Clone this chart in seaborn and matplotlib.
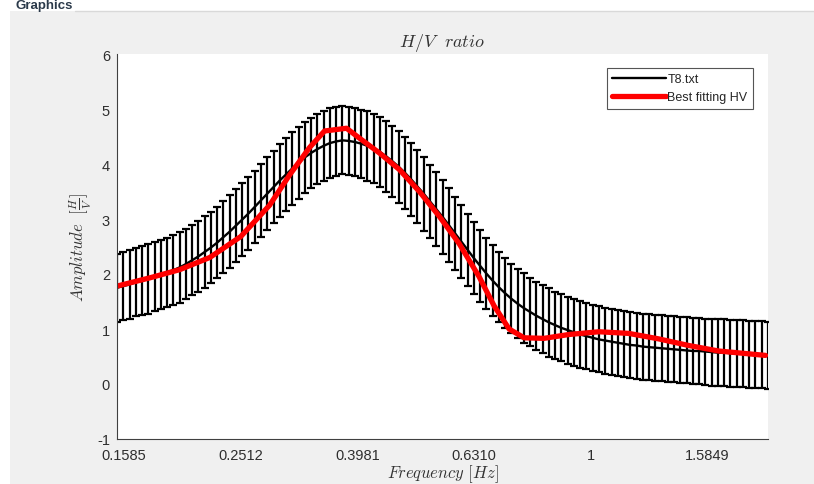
import numpy as np
import matplotlib.pyplot as plt
import matplotlib.patches as mpatches
import seaborn as sns

# measured H/V curve (frequency grid, mean amplitude, error half-width)
freq = [0.1542, 0.1581, 0.1620, 0.1661, 0.1702, 0.1745, 0.1788, 0.1833, 0.1879, 0.1926,
        0.1974, 0.2023, 0.2074, 0.2126, 0.2179, 0.2233, 0.2289, 0.2346, 0.2405, 0.2465,
        0.2527, 0.2590, 0.2655, 0.2721, 0.2789, 0.2859, 0.2930, 0.3004, 0.3079, 0.3156,
        0.3235, 0.3315, 0.3398, 0.3483, 0.3570, 0.3660, 0.3751, 0.3845, 0.3941, 0.4040,
        0.4141, 0.4244, 0.4350, 0.4459, 0.4570, 0.4685, 0.4802, 0.4922, 0.5045, 0.5171,
        0.5300, 0.5433, 0.5569, 0.5708, 0.5851, 0.5997, 0.6147, 0.6300, 0.6458, 0.6619,
        0.6785, 0.6954, 0.7128, 0.7306, 0.7489, 0.7676, 0.7868, 0.8065, 0.8266, 0.8473,
        0.8685, 0.8902, 0.9125, 0.9353, 0.9587, 0.9826, 1.0072, 1.0324, 1.0582, 1.0846,
        1.1117, 1.1395, 1.1680, 1.1972, 1.2271, 1.2578, 1.2893, 1.3215, 1.3545, 1.3884,
        1.4231, 1.4587, 1.4952, 1.5325, 1.5708, 1.6101, 1.6504, 1.6916, 1.7339, 1.7773,
        1.8217, 1.8672, 1.9139, 1.9618, 2.0108]
hv_mean = [1.75, 1.78, 1.81, 1.85, 1.88, 1.91, 1.95, 1.99, 2.03, 2.07,
           2.12, 2.18, 2.25, 2.32, 2.40, 2.48, 2.57, 2.67, 2.77, 2.88,
           2.99, 3.10, 3.22, 3.34, 3.46, 3.58, 3.70, 3.81, 3.92, 4.02,
           4.12, 4.20, 4.27, 4.33, 4.38, 4.41, 4.43, 4.42, 4.40, 4.37,
           4.33, 4.28, 4.22, 4.14, 4.05, 3.95, 3.84, 3.72, 3.59, 3.46,
           3.32, 3.18, 3.04, 2.89, 2.74, 2.59, 2.44, 2.29, 2.15, 2.01,
           1.88, 1.76, 1.65, 1.55, 1.46, 1.38, 1.31, 1.24, 1.18, 1.12,
           1.07, 1.02, 0.98, 0.94, 0.90, 0.87, 0.84, 0.81, 0.79, 0.77,
           0.75, 0.73, 0.71, 0.70, 0.68, 0.67, 0.66, 0.65, 0.64, 0.63,
           0.62, 0.61, 0.60, 0.60, 0.59, 0.58, 0.57, 0.57, 0.56, 0.55,
           0.55, 0.54, 0.53, 0.53, 0.52]
hv_err = [0.62, 0.62, 0.62, 0.62, 0.63, 0.63, 0.63, 0.63, 0.63, 0.64,
          0.64, 0.64, 0.64, 0.65, 0.65, 0.65, 0.65, 0.65, 0.66, 0.66,
          0.66, 0.66, 0.66, 0.66, 0.66, 0.66, 0.66, 0.66, 0.66, 0.65,
          0.65, 0.64, 0.64, 0.63, 0.63, 0.62, 0.62, 0.62, 0.62, 0.62,
          0.63, 0.63, 0.64, 0.64, 0.65, 0.65, 0.66, 0.66, 0.66, 0.67,
          0.67, 0.67, 0.67, 0.67, 0.66, 0.66, 0.66, 0.65, 0.65, 0.65,
          0.64, 0.64, 0.64, 0.63, 0.63, 0.63, 0.62, 0.62, 0.62, 0.62,
          0.61, 0.61, 0.61, 0.61, 0.61, 0.60, 0.60, 0.60, 0.60, 0.60,
          0.60, 0.60, 0.60, 0.60, 0.60, 0.60, 0.60, 0.60, 0.60, 0.60,
          0.60, 0.60, 0.60, 0.60, 0.60, 0.61, 0.61, 0.61, 0.61, 0.61,
          0.61, 0.61, 0.61, 0.61, 0.61]

# best fitting model curve
fit_freq = [0.1542, 0.1755, 0.1976, 0.2223, 0.2512, 0.2815, 0.3046, 0.3296, 0.3496, 0.3813,
            0.4013, 0.4342, 0.4696, 0.5082, 0.5497, 0.5948, 0.6434, 0.6826, 0.7242, 0.7683,
            0.8311, 0.9170, 1.032, 1.161, 1.307, 1.471, 1.655, 1.991]
fit_hv = [1.78, 1.93, 2.08, 2.30, 2.68, 3.25, 3.80, 4.30, 4.60, 4.65,
          4.47, 4.20, 3.90, 3.50, 3.05, 2.55, 1.95, 1.42, 1.00, 0.84,
          0.83, 0.90, 0.95, 0.92, 0.82, 0.70, 0.60, 0.52]

xticks = [0.1585, 0.2512, 0.3981, 0.6310, 1, 1.5849]
xticklabels = ["0.1585", "0.2512", "0.3981", "0.6310", "1", "1.5849"]
yticks = [-1, 0, 1, 2, 3, 4, 5, 6]

sns.set_theme(style="white")
plt.rcParams["font.family"] = ["Liberation Sans", "DejaVu Sans"]
plt.rcParams["mathtext.fontset"] = "cm"
plt.rcParams["axes.unicode_minus"] = False

fig = plt.figure(figsize=(8.14, 4.85), dpi=100)
fig.patch.set_facecolor("white")
# grey panel behind the axes
fig.patches.append(mpatches.Rectangle((10 / 814, 0), 1, (485 - 12) / 485,
                                      transform=fig.transFigure, facecolor="#f0f0f0",
                                      edgecolor="none", zorder=-10))
fig.add_artist(plt.Line2D([75 / 814, 1], [1 - 12 / 485, 1 - 12 / 485],
                          transform=fig.transFigure, color="#d9d9d9", lw=1, zorder=-5))
fig.text(15 / 814, 1.0, "Graphics", fontsize=9.5, fontweight="bold",
         color="#2b3a4a", ha="left", va="top")

ax = fig.add_axes([117 / 814, 1 - 440 / 485, 651 / 814, 385 / 485])
ax.set_facecolor("white")

ax.errorbar(freq, hv_mean, yerr=hv_err, fmt="none", ecolor="black",
            elinewidth=1.6, capsize=2.6, capthick=1.6, label="_nolegend_")
sns.lineplot(x=freq, y=hv_mean, ax=ax, color="black", lw=1.7,
             sort=False, estimator=None, label="T8.txt")
sns.lineplot(x=fit_freq, y=fit_hv, ax=ax, color="red", lw=3.8,
             sort=False, estimator=None, label="Best fitting HV")

ax.set_xscale("log")
ax.set_xlim(0.1542, 2.0108)
ax.set_ylim(-1, 6)
ax.set_xticks(xticks)
ax.set_xticklabels(xticklabels)
ax.minorticks_off()
ax.set_yticks(yticks)
ax.tick_params(axis="both", direction="in", length=4, width=0.8, colors="#404040",
               labelsize=10.5, labelcolor="#2e2e2e")
ax.tick_params(axis="x", pad=6.5)
ax.tick_params(axis="y", pad=5)

for side in ["top", "right"]:
    ax.spines[side].set_visible(False)
for side in ["left", "bottom"]:
    ax.spines[side].set_color("#404040")
    ax.spines[side].set_linewidth(0.8)

ax.set_title(r"$H/V\ \ ratio$", fontsize=13, color="#333333", pad=6)
ax.set_xlabel(r"$Frequency\ [Hz]$", fontsize=12, color="#333333", labelpad=0)
ax.set_ylabel(r"$Amplitude\ \ [\frac{H}{V}]$", fontsize=12, color="#333333", labelpad=2)

leg = ax.legend(loc="upper right", bbox_to_anchor=(0.977, 0.964), fontsize=9,
                frameon=True, fancybox=False, framealpha=1, edgecolor="#555555",
                borderpad=0.45, handlelength=4.3, handletextpad=0.1, labelspacing=0.45,
                borderaxespad=0)
leg.get_frame().set_linewidth(0.8)

fig.savefig("out.png", dpi=100)
